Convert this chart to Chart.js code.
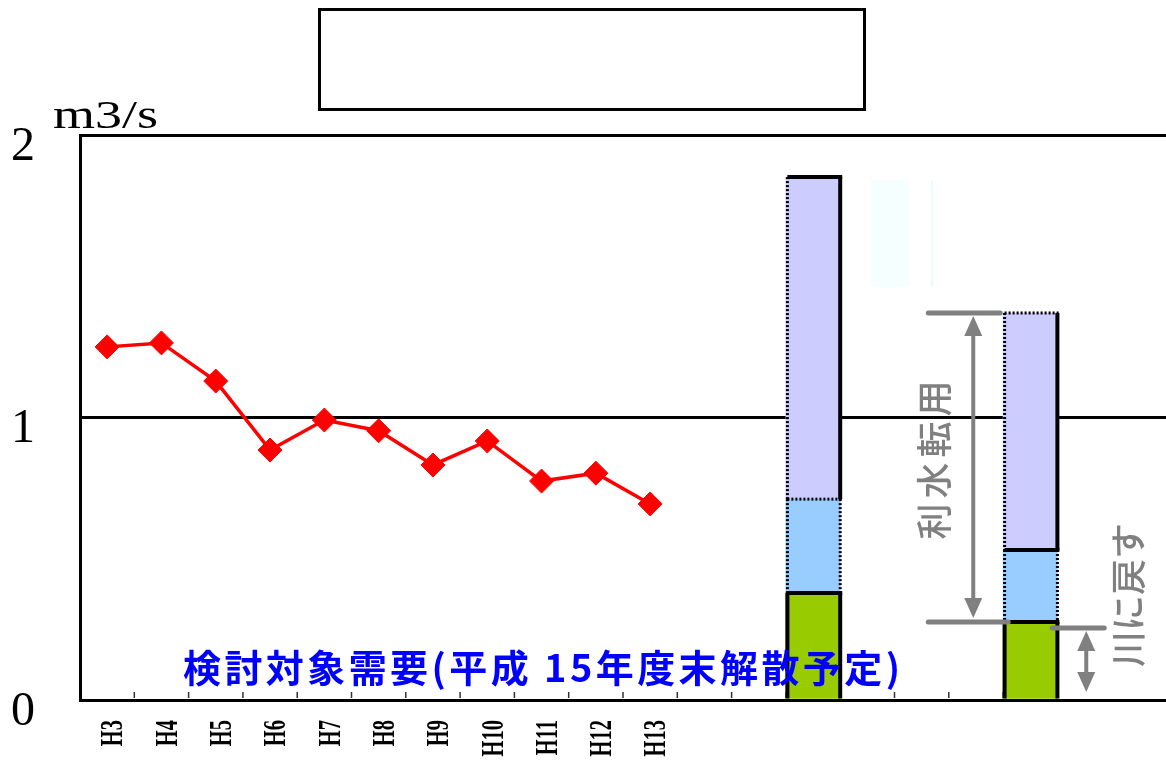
<!DOCTYPE html>
<html>
<head>
<meta charset="utf-8">
<script src="https://cdn.jsdelivr.net/npm/chart.js@4.4.1/dist/chart.umd.min.js"></script>
<style>
  html, body { margin: 0; padding: 0; background: #fff; }
</style>
</head>
<body>
<canvas id="chart" width="1166" height="763"></canvas>
<script>
// data
const categories = ["H3", "H4", "H5", "H6", "H7", "H8", "H9", "H10", "H11", "H12", "H13",
                    "", "", "", "", "", "", "", "", ""];
const demand = [1.25, 1.264, 1.129, 0.885, 0.991, 0.953, 0.832, 0.917, 0.775, 0.803, 0.694];
const barSlots = [13, 17];
const returnPart = [0.379, 0.276];   // green
const middlePart = [0.332, 0.255];   // light blue
const transferPart = [1.14, 0.839];  // lavender
const yTicks = [0, 1, 2];

// put the bar values into their category slots
function place(vals) {
  const a = categories.map(() => null);
  barSlots.forEach((s, i) => { a[s] = vals[i]; });
  return a;
}

// edge style per bar dataset, per bar: [left, right, top, bottom]  s = solid, d = dotted
const edgeStyles = {
  1: [["s", "s", "s", ""], ["s", "s", "s", ""]],
  2: [["d", "d", "d", ""], ["d", "d", "", ""]],
  3: [["d", "s", "s", ""], ["d", "s", "d", "s"]],
};

const GREY = "#808080";

function arrowHead(ctx, x, y, dir) {
  ctx.beginPath();
  ctx.moveTo(x, y);
  ctx.lineTo(x - 9, y - dir * 20);
  ctx.lineTo(x + 9, y - dir * 20);
  ctx.closePath();
  ctx.fill();
}

function vText(ctx, str, cx, cy, font, spacing, color) {
  ctx.save();
  ctx.translate(cx, cy);
  ctx.rotate(-Math.PI / 2);
  ctx.font = font;
  ctx.letterSpacing = spacing + "px";
  ctx.fillStyle = color;
  ctx.textAlign = "center";
  ctx.textBaseline = "middle";
  ctx.fillText(str, 0, 0);
  ctx.restore();
}

const overlay = {
  id: "overlay",
  beforeDatasetsDraw(chart) {
    const { ctx, scales: { x, y } } = chart;
    ctx.save();
    // small ticks between categories, inside the plot
    ctx.strokeStyle = "#333";
    ctx.lineWidth = 1.5;
    for (let k = 1; k < categories.length - 1; k++) {
      const px = (x.getPixelForValue(k - 1) + x.getPixelForValue(k)) / 2;
      ctx.beginPath();
      ctx.moveTo(px, y.bottom - 8);
      ctx.lineTo(px, y.bottom - 2);
      ctx.stroke();
    }
    // faint leftovers next to first bar
    const b1 = chart.getDatasetMeta(3).data[barSlots[0]];
    ctx.fillStyle = "#f6ffff";
    ctx.fillRect(b1.x + 58, 180, 38, 107);
    ctx.fillStyle = "#e4ffff";
    ctx.fillRect(b1.x + 118, 180, 2, 107);
    ctx.restore();
  },
  afterDatasetsDraw(chart) {
    const { ctx, scales: { x, y } } = chart;
    ctx.save();
    // bar borders
    Object.keys(edgeStyles).forEach(di => {
      const meta = chart.getDatasetMeta(+di);
      barSlots.forEach((slot, bi) => {
        const el = meta.data[slot];
        const { x: cx, y: top, base, width } = el.getProps(["x", "y", "base", "width"], true);
        const l = cx - width / 2 + 1.5, r = cx + width / 2;
        const sides = edgeStyles[di][bi];
        const segs = [[l, top, l, base], [r, top, r, base], [l, top, r + 2, top], [l, base, r + 2, base]];
        ["d", "s"].forEach(kind => {
          sides.forEach((st, si) => {
            if (st !== kind) return;
            ctx.strokeStyle = "#000";
            ctx.lineWidth = kind === "s" ? 4 : 3;
            ctx.setLineDash(kind === "s" ? [] : [2, 2]);
            const [x1, y1, x2, y2] = segs[si];
            ctx.beginPath();
            ctx.moveTo(x1, y1);
            ctx.lineTo(x2, y2);
            ctx.stroke();
          });
        });
      });
    });
    ctx.setLineDash([]);

    // arrows around the second bar
    const bx = chart.getDatasetMeta(3).data[barSlots[1]].x;
    const yTop = y.getPixelForValue(returnPart[1] + middlePart[1] + transferPart[1]);
    const yG = y.getPixelForValue(returnPart[1]);
    ctx.strokeStyle = GREY;
    ctx.fillStyle = GREY;
    ctx.lineWidth = 5;
    ctx.lineCap = "round";
    ctx.beginPath();
    ctx.moveTo(bx - 102, yTop); ctx.lineTo(bx - 30, yTop);
    ctx.moveTo(bx - 102, yG); ctx.lineTo(bx - 22, yG);
    ctx.moveTo(bx + 22, yG + 6); ctx.lineTo(bx + 74, yG + 6);
    ctx.stroke();
    ctx.lineWidth = 4;
    ctx.lineCap = "butt";
    ctx.beginPath();
    ctx.moveTo(bx - 57, yTop + 15); ctx.lineTo(bx - 57, yG - 15);
    ctx.moveTo(bx + 56, yG + 18); ctx.lineTo(bx + 56, y.bottom - 18);
    ctx.stroke();
    arrowHead(ctx, bx - 57, yTop + 3, -1);
    arrowHead(ctx, bx - 57, yG - 4, 1);
    arrowHead(ctx, bx + 56, yG + 9, -1);
    arrowHead(ctx, bx + 56, y.bottom - 8, 1);

    vText(ctx, "利水転用", bx - 96, (yTop + yG) / 2 - 10, '500 36px "Noto Sans CJK JP"', 5, GREY);
    vText(ctx, "川に戻す", bx + 98, yG - 27, '500 36px "Noto Sans CJK JP"', 0, GREY);

    // blue caption over the plot
    const cap = "検討対象需要(平成 15年度末解散予定)";
    ctx.font = 'bold 38px "Noto Sans CJK JP"';
    const w = ctx.measureText(cap).width;
    ctx.letterSpacing = ((717 - w) / (cap.length - 1)) + "px";
    ctx.fillStyle = "#0000ff";
    ctx.textAlign = "left";
    ctx.textBaseline = "middle";
    ctx.fillText(cap, 183, 668);
    ctx.restore();
  },
  afterDraw(chart) {
    const { ctx, scales: { x } } = chart;
    ctx.save();
    // unit label
    ctx.font = '40px "Liberation Serif"';
    ctx.fillStyle = "#000";
    ctx.translate(53, 128);
    ctx.scale(1.35, 1);
    ctx.fillText("m3/s", 0, 0);
    ctx.restore();

    // empty title box
    ctx.save();
    ctx.strokeStyle = "#000";
    ctx.lineWidth = 3;
    ctx.strokeRect(319.5, 9.5, 545, 100);
    ctx.restore();

    // condensed, rotated year labels
    ctx.save();
    ctx.font = 'bold 32px "Liberation Serif"';
    ctx.fillStyle = "#000";
    categories.forEach((lab, i) => {
      if (!lab) return;
      ctx.save();
      ctx.translate(x.getPixelForValue(i) + 7, 720);
      ctx.rotate(-Math.PI / 2);
      ctx.scale(0.64, 1);
      ctx.textAlign = "right";
      ctx.textBaseline = "middle";
      ctx.fillText(lab, 0, 0);
      ctx.restore();
    });
    ctx.restore();
  },
};

new Chart(document.getElementById("chart"), {
  data: {
    labels: categories,
    datasets: [
      {
        type: "line",
        data: demand,
        stack: "demand",
        borderColor: "#ff0000",
        borderWidth: 3.5,
        pointStyle: "rectRot",
        pointRadius: 12,
        pointBackgroundColor: "#ff0000",
        pointBorderColor: "#ff0000",
        pointBorderWidth: 1,
      },
      { type: "bar", data: place(returnPart), stack: "bars", backgroundColor: "#99cc00", borderWidth: 0 },
      { type: "bar", data: place(middlePart), stack: "bars", backgroundColor: "#99ccff", borderWidth: 0 },
      { type: "bar", data: place(transferPart), stack: "bars", backgroundColor: "#ccccff", borderWidth: 0 },
    ],
  },
  options: {
    responsive: false,
    animation: false,
    layout: { autoPadding: false, padding: { top: 135, left: 0, right: 0, bottom: 0 } },
    datasets: { bar: { barPercentage: 1, categoryPercentage: 1 } },
    plugins: { legend: { display: false }, tooltip: { enabled: false } },
    scales: {
      x: {
        stacked: true,
        offset: true,
        grid: { display: false },
        border: { display: true, color: "#000", width: 3 },
        ticks: { display: false },
        afterFit(s) { s.height = 63; s.paddingLeft = 0; s.paddingRight = 0; },
      },
      y: {
        stacked: true,
        min: 0,
        max: 2,
        afterBuildTicks(s) { s.ticks = yTicks.map(v => ({ value: v })); },
        grid: { color: "#000", lineWidth: 3, drawTicks: false },
        border: { color: "#000", width: 3 },
        ticks: {
          font: { family: '"Liberation Serif"', size: 48 },
          color: "#000",
          padding: 45,
          labelOffset: 12,
        },
        afterFit(s) { s.width = 80; s.paddingTop = 0; s.paddingBottom = 0; },
      },
    },
  },
  plugins: [overlay],
});
</script>
</body>
</html>
